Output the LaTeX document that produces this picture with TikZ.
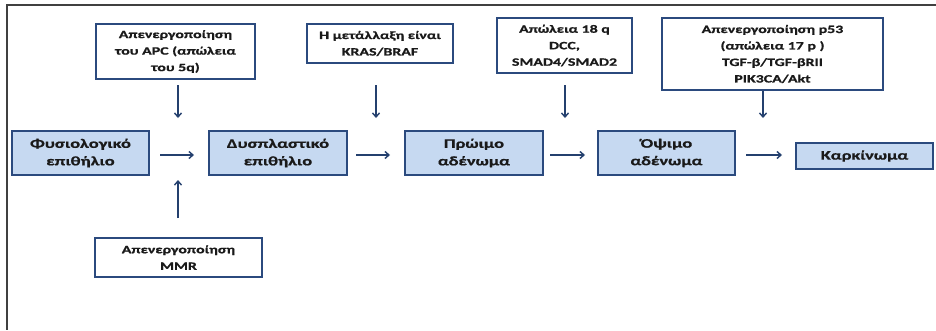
\documentclass[tikz,border=0pt]{standalone}
\usepackage{fontspec}
\setmainfont{Carlito}[FakeStretch=1.42, BoldFeatures={FakeBold=0.8}]
\usetikzlibrary{arrows.meta}
\definecolor{boxfill}{HTML}{C6D9F1}
\definecolor{boxline}{HTML}{2B4A7E}
\definecolor{arrowcol}{HTML}{24406E}
\definecolor{framecol}{HTML}{404040}
\definecolor{txt}{HTML}{1A1A1A}
\tikzset{
  stage/.style={draw=boxline, line width=1.8pt, fill=boxfill, inner sep=0pt, align=center,
    text=txt, font=\bfseries\fontsize{13}{17.5}\selectfont},
  note/.style={draw=boxline, line width=1.6pt, fill=white, inner sep=0pt, align=center,
    text=txt, font=\bfseries\fontsize{11.2}{16.5}\selectfont},
  flow/.style={draw=arrowcol, line width=1.4pt, -{Straight Barb[length=4pt,width=7pt,line width=1.4pt]}}
}
\begin{document}
\begin{tikzpicture}[x=1pt,y=-1pt]
\useasboundingbox (0,0) rectangle (936,330);
\fill[white] (0,0) rectangle (936,330);
% frame (top and left only)
\draw[framecol, line width=2.2pt] (936,5) -- (7,5) -- (7,330);

% main stages
\node[stage, minimum width=137pt, minimum height=44pt] (s1) at (80.5,153) {Φυσιολογικό\\επιθήλιο};
\node[stage, minimum width=138pt, minimum height=44pt] (s2) at (278,153) {Δυσπλαστικό\\επιθήλιο};
\node[stage, minimum width=138pt, minimum height=44pt] (s3) at (474,153) {Πρώιμο\\αδένωμα};
\node[stage, minimum width=137pt, minimum height=44pt] (s4) at (666.5,153) {Όψιμο\\αδένωμα};
\node[stage, minimum width=137pt, minimum height=26pt] (s5) at (864.5,156) {Καρκίνωμα};

% notes
\node[note, minimum width=159pt, minimum height=55pt] (t1) at (175.5,51.5) {Απενεργοποίηση\\του APC (απώλεια\\του 5q)};
\node[note, minimum width=146pt, minimum height=39pt] (t2) at (380,43.5) {Η μετάλλαξη είναι\\KRAS/BRAF};
\node[note, minimum width=135pt, minimum height=55pt] (t3) at (564.5,45.5) {Απώλεια 18 q\\DCC,\\SMAD4/SMAD2};
\node[note, minimum width=221pt, minimum height=72pt] (t4) at (772.5,54) {Απενεργοποίηση p53\\(απώλεια 17 p )\\TGF-β/TGF-βRII\\PIK3CA/Akt};
\node[note, minimum width=167pt, minimum height=39pt] (b1) at (178.5,257.5) {Απενεργοποίηση\\MMR};

% arrow end coordinates
\coordinate (h1a) at (160,155); \coordinate (h1b) at (194,155);
\coordinate (h2a) at (356,155); \coordinate (h2b) at (390,155);
\coordinate (h3a) at (550,155); \coordinate (h3b) at (585,155);
\coordinate (h4a) at (746,155); \coordinate (h4b) at (782,155);
\coordinate (d1a) at (178,85);  \coordinate (d1b) at (178,118);
\coordinate (d2a) at (376,85);  \coordinate (d2b) at (376,118);
\coordinate (d3a) at (565,85);  \coordinate (d3b) at (565,118);
\coordinate (d4b) at (763,118);
\coordinate (u1a) at (178,218); \coordinate (u1b) at (178,180);

\draw[flow] (h1a) -- (h1b);
\draw[flow] (h2a) -- (h2b);
\draw[flow] (h3a) -- (h3b);
\draw[flow] (h4a) -- (h4b);
\draw[flow] (d1a) -- (d1b);
\draw[flow] (d2a) -- (d2b);
\draw[flow] (d3a) -- (d3b);
\draw[flow] (t4.south -| d4b) -- (d4b);
\draw[flow] (u1a) -- (u1b);
\end{tikzpicture}
\end{document}
